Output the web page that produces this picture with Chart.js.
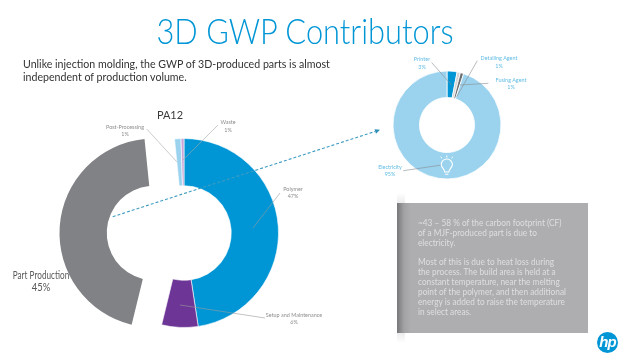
<!DOCTYPE html>
<html>
<head>
<meta charset="utf-8">
<script src="https://cdn.jsdelivr.net/npm/chart.js"></script>
<style>
  html, body { margin: 0; padding: 0; background: #fff; }
  #slide { position: relative; width: 619px; height: 353px; overflow: hidden; font-family: Lato, sans-serif; }
  #slide canvas { position: absolute; }
  #slide svg { position: absolute; left: 0; top: 0; }
  .txt { position: absolute; white-space: nowrap; line-height: 1; }
  .ctr { transform: translate(-50%, -50%) scaleX(var(--sx, 1)); text-align: center; }
  .lft { transform: translateY(-50%) scaleX(var(--sx, 1)); transform-origin: left center; }
  #box { position: absolute; left: 397px; top: 203px; width: 191px; height: 130px;
         background: linear-gradient(to right, #77777a 0, #a2a2a5 7px, #aeaeb1 14px); }
  #boxShadeTop, #boxShadeBottom { position: absolute; left: 397px; width: 8px; height: 10px; }
  #boxShadeTop { top: 193px; background: linear-gradient(to top, #ececec, #fff); }
  #boxShadeBottom { top: 333px; background: linear-gradient(to bottom, #ececec, #fff); }
  #boxText { left: 418px; top: 218px; font-size: 9px; line-height: 9.85px; color: #dfdfe2;
             transform: scaleX(0.92); transform-origin: left top; }
  #logo { position: absolute; left: 597px; top: 331.5px; width: 21px; height: 21px; border-radius: 50%; background: #0096d6;
          color: #fff; font: italic bold 15px/20px "Liberation Sans", sans-serif; text-align: center; letter-spacing: -1px; }
</style>
</head>
<body>
<div id="slide">
  <canvas id="gwpGray" width="200" height="200" style="left:54px;top:133px"></canvas>
  <canvas id="gwpMain" width="200" height="200" style="left:84px;top:133px"></canvas>
  <canvas id="gwpPower" width="120" height="120" style="left:387px;top:65px"></canvas>
  <div id="boxShadeTop"></div>
  <div id="box"></div>
  <div id="boxShadeBottom"></div>
  <svg id="notes" width="619" height="353"></svg>
  <div id="logo">hp</div>
</div>
<script>
// PA12 donut, slices read clockwise from 12 o'clock
const pa12Labels = ['Polymer', 'Setup and Maintenance', 'Part Production', 'Post-Processing', 'Waste'];
const pa12Values = [47.6, 6.2, 44.6, 1.1, 0.5];
const pa12Colors = ['#0096d6', '#6c3596', '#818285', '#9bd3ef', '#c7a5d6'];

// Breakdown of the part production slice
const powerLabels = ['Printer', 'Detailing Agent', 'Fusing Agent', 'Electricity'];
const powerValues = [3, 1, 1, 95];
const powerColors = ['#0096d6', '#d4d4d6', '#6d6e71', '#9bd3ef'];

const titleText = '3D GWP Contributors';
const introLines = ['Unlike injection molding, the GWP of 3D-produced parts is almost', 'independent of production volume.'];
const boxLines = [
    '~43 – 58 % of the carbon footprint (CF)', 'of a MJF-produced part is due to', 'electricity.', '',
    'Most of this is due to heat loss during', 'the process. The build area is held at a',
    'constant temperature, near the melting', 'point of the polymer, and then additional',
    'energy is added to raise the temperature', 'in select areas.'
];

const slide = document.getElementById('slide');
const notes = document.getElementById('notes');

// Helper to drop a piece of text on the slide, sx squeezes it to the narrower slide font:
const addText = (text, x, y, size, color, sx, align) => {
    const el = document.createElement('div');
    el.className = 'txt ' + (align || 'ctr');
    el.textContent = text;
    el.style.left = x + 'px';
    el.style.top = y + 'px';
    el.style.fontSize = size + 'px';
    el.style.color = color;
    el.style.setProperty('--sx', sx || 0.85);
    slide.appendChild(el);
    return el;
};

// Helper for the thin leader lines and the dashed arrow:
const addLine = (x1, y1, x2, y2, color, width, dash) => {
    const line = document.createElementNS('http://www.w3.org/2000/svg', 'line');
    line.setAttribute('x1', x1);
    line.setAttribute('y1', y1);
    line.setAttribute('x2', x2);
    line.setAttribute('y2', y2);
    line.setAttribute('stroke', color);
    line.setAttribute('stroke-width', width);
    if (dash) line.setAttribute('stroke-dasharray', dash);
    notes.appendChild(line);
};

const renderDonut = (id, labels, values, colors, borders, radius, cutout, border) => {
    new Chart(document.getElementById(id).getContext('2d'), {
        type: 'doughnut',
        data: {
            labels: labels,
            datasets: [{ data: values, backgroundColor: colors, borderColor: borders, borderWidth: border }]
        },
        options: {
            responsive: false,
            animation: false,
            radius: radius,
            cutout: cutout,
            plugins: { legend: { display: false }, tooltip: { enabled: false } }
        }
    });
};

// The gray slice sits pulled away to the left, so it gets its own canvas
const clear = 'rgba(0,0,0,0)';
const isGray = (i) => pa12Labels[i] === 'Part Production';
const grayOnly = pa12Colors.map((c, i) => isGray(i) ? c : clear);
const restOnly = pa12Colors.map((c, i) => isGray(i) ? clear : c);
const restBorders = pa12Colors.map((c, i) => isGray(i) ? clear : '#fff');
renderDonut('gwpGray', pa12Labels, pa12Values, grayOnly, clear, 94.5, '50%', 0);
renderDonut('gwpMain', pa12Labels, pa12Values, restOnly, restBorders, 94.5, '50%', 0.6);
renderDonut('gwpPower', powerLabels, powerValues, powerColors, '#fff', 54, '51%', 0.8);

// Heading and intro
const title = addText(titleText, 304.5, 30, 35, '#0096d6', 0.88);
title.style.fontWeight = 300;
introLines.forEach((line, i) => {
    addText(line, 23, 63.5 + i * 13.5, 11.8, '#333336', 0.9, 'lft');
});

// Labels of the PA12 donut
const gray = '#8c8d90';
addText('PA12', 170, 115, 11.5, '#3a3a3d', 0.95);
addText('Post-Processing', 125, 126.5, 6.4, gray);
addText('1%', 125, 134, 6.4, gray);
addText('Waste', 228, 122, 6.4, gray);
addText('1%', 228, 129.5, 6.4, gray);
addText('Polymer', 293, 188.5, 6.4, gray);
addText('47%', 293, 196, 6.4, gray);
addText('Setup and Maintenance', 294, 314.5, 6.4, gray);
addText('6%', 294, 322, 6.4, gray);
addText('Part Production', 41, 275, 10.5, '#58595b', 0.78);
addText('45%', 41, 287, 10.5, '#58595b', 0.9);

// Labels of the power donut
const blueLabel = '#62bce4';
addText('Printer', 421.5, 59, 6.4, blueLabel);
addText('3%', 421.5, 67, 6.4, blueLabel);
addText('Detailing Agent', 498.5, 57.5, 6.4, blueLabel);
addText('1%', 498.5, 65.5, 6.4, blueLabel);
addText('Fusing Agent', 511, 79.5, 6.4, blueLabel);
addText('1%', 511, 87, 6.4, blueLabel);
addText('Electricity', 390, 166.5, 6.4, blueLabel);
addText('95%', 390, 174, 6.4, blueLabel);

// Leader lines
addLine(146.7, 129, 176.7, 161.7, '#a6a7a9', 0.6);
addLine(218, 125, 183, 160, '#a6a7a9', 0.6);
addLine(280, 193, 253, 228, '#9a9b9e', 0.6);
addLine(180, 305, 265, 318, '#9a9b9e', 0.6);
addLine(431.7, 62.7, 451.7, 85, '#8a8b8e', 0.6);
addLine(477.3, 60.7, 456.7, 96.7, '#8a8b8e', 0.6);
addLine(488.3, 83.3, 460, 85, '#8a8b8e', 0.6);
addLine(403.3, 170.7, 441.7, 165, '#8a8b8e', 0.6);

// Dashed arrow between the donuts
addLine(112.7, 216.7, 375, 131.5, '#3d9cc2', 1.1, '3 2');
const head = document.createElementNS('http://www.w3.org/2000/svg', 'polygon');
head.setAttribute('points', '380,129.8 374.5,129.2 376,133.8');
head.setAttribute('fill', '#2f8fb8');
notes.appendChild(head);

// Light bulb on the electricity slice
const bulb = document.createElementNS('http://www.w3.org/2000/svg', 'path');
bulb.setAttribute('d', 'M444.7 172 C444.7 169 441.2 167.8 441.2 164.6 A5.6 5.6 0 0 1 452.4 164.6 C452.4 167.8 448.9 169 448.9 172 Z M445.2 174.2 L448.4 174.2');
bulb.setAttribute('fill', 'none');
bulb.setAttribute('stroke', '#fff');
bulb.setAttribute('stroke-width', 1.1);
notes.appendChild(bulb);
addLine(446.8, 155.5, 446.8, 157.5, '#fff', 1);
addLine(440.5, 156.8, 442, 158.2, '#fff', 1);
addLine(453, 156.8, 451.5, 158.2, '#fff', 1);

// Text box
const boxText = document.createElement('div');
boxText.id = 'boxText';
boxText.className = 'txt';
boxLines.forEach((line) => {
    const row = document.createElement('div');
    row.style.height = '9.85px';
    row.textContent = line;
    boxText.appendChild(row);
});
slide.appendChild(boxText);
</script>
</body>
</html>
